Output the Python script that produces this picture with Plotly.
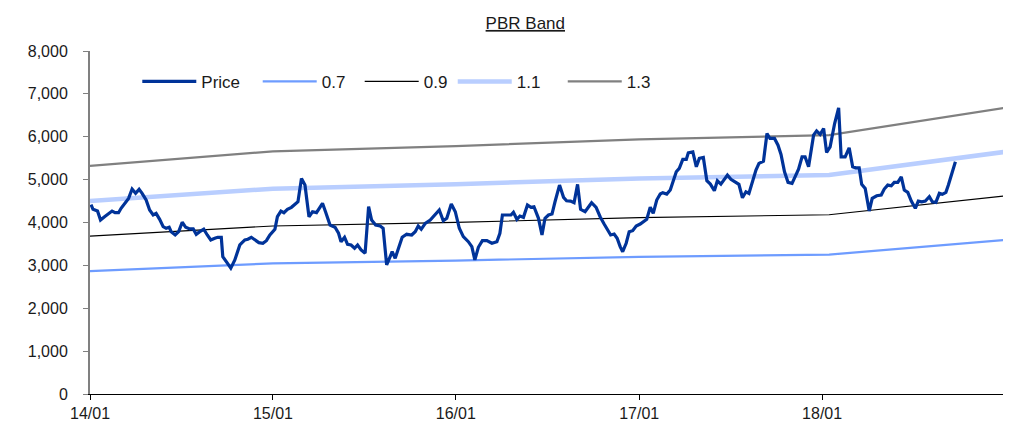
import plotly.graph_objects as go
import pandas as pd

# ---- data ----
# price observations: days since 2014-01-01 and price
day_offsets = [2, 6, 15, 21, 29, 37, 44, 50, 57, 62, 69, 77, 84, 91, 98, 104, 112, 119, 126, 132,
               139, 146, 152, 158, 162, 170, 177, 184, 191, 199, 206, 212, 219, 227, 234, 241, 249, 255, 262, 265,
               272, 281, 289, 299, 309, 315, 322, 329, 337, 345, 352, 359, 365, 369, 374, 381, 387, 394, 402, 409,
               415, 422, 429, 437, 444, 452, 464, 470, 479, 489, 496, 501, 508, 514, 521, 528, 534, 541, 549, 556,
               562, 570, 579, 585, 592, 599, 603, 609, 617, 623, 632, 642, 649, 655, 661, 669, 679, 689, 697, 705,
               712, 721, 729, 737, 745, 755, 762, 768, 775, 783, 792, 802, 812, 818, 823, 832, 840, 845, 852, 858,
               865, 873, 880, 886, 895, 902, 908, 915, 922, 928, 937, 945, 951, 959, 966, 973, 979, 988, 995, 1001,
               1010, 1018, 1026, 1033, 1039, 1046, 1052, 1058, 1063, 1070, 1076, 1083, 1090, 1098, 1104, 1111, 1118, 1124, 1131, 1138,
               1143, 1151, 1158, 1163, 1170, 1176, 1183, 1190, 1194, 1203, 1210, 1216, 1224, 1231, 1238, 1246, 1252, 1259, 1265, 1272,
               1279, 1287, 1295, 1302, 1309, 1315, 1322, 1329, 1335, 1344, 1351, 1357, 1366, 1373, 1379, 1386, 1393, 1401, 1407, 1414,
               1421, 1427, 1434, 1439, 1444, 1450, 1457, 1464, 1470, 1477, 1486, 1494, 1499, 1507, 1515, 1522, 1528, 1535, 1540, 1547,
               1555, 1561, 1570, 1579, 1585, 1592, 1599, 1605, 1612, 1619, 1625, 1632, 1639, 1647, 1653, 1660, 1667, 1675, 1681, 1688,
               1695, 1701, 1708, 1713, 1719, 1727]
price = [4420, 4307, 4267, 4058, 4135, 4198, 4267, 4229, 4229, 4331, 4447, 4563, 4780, 4680, 4773, 4680, 4524, 4291, 4175, 4214,
         4074, 3903, 3865, 3888, 3786, 3709, 3786, 4005, 3888, 3849, 3849, 3725, 3786, 3842, 3709, 3593, 3632, 3655, 3655, 3204,
         3087, 2934, 3127, 3476, 3593, 3609, 3655, 3593, 3530, 3516, 3576, 3709, 3802, 3842, 4135, 4267, 4229, 4307, 4354, 4424,
         4484, 5029, 4873, 4135, 4251, 4229, 4447, 4251, 3942, 3888, 3749, 3553, 3655, 3492, 3476, 3399, 3476, 3360, 3283, 4368,
         4058, 3942, 3919, 3865, 3011, 3204, 3320, 3166, 3476, 3655, 3725, 3709, 3786, 3919, 3842, 3981, 4058, 4198, 4291, 4042,
         4098, 4431, 4251, 3865, 3670, 3553, 3437, 3127, 3422, 3576, 3576, 3516, 3553, 3749, 4175, 4175, 4175, 4237, 4074, 4151,
         4120, 4407, 4354, 4368, 4098, 3709, 4098, 4175, 4198, 4484, 4873, 4587, 4508, 4500, 4461, 4889, 4307, 4251, 4354, 4461,
         4354, 4135, 3965, 3825, 3709, 3732, 3632, 3437, 3320, 3516, 3786, 3809, 3919, 3965, 4019, 4074, 4354, 4214, 4524, 4664,
         4695, 4664, 4757, 4950, 5183, 5262, 5472, 5472, 5625, 5649, 5299, 5495, 5518, 4973, 4896, 4741, 4973, 4896, 4989, 5106,
         5006, 4950, 4889, 4577, 4717, 4680, 4936, 5222, 5378, 5432, 6077, 5960, 5960, 5804, 5588, 5183, 4936, 4913, 5066, 5246,
         5532, 5532, 5299, 5649, 6037, 6137, 6053, 6193, 5634, 5765, 6309, 6673, 5532, 5532, 5742, 5299, 5276, 5276, 4889, 4796,
         4267, 4563, 4624, 4640, 4780, 4873, 4857, 4936, 4936, 5066, 4757, 4703, 4500, 4331, 4500, 4484, 4500, 4601, 4484, 4470,
         4680, 4657, 4703, 4873, 5100, 5416]

# book value per share anchors used for the PBR bands
bps_dates = ["2014-01-01", "2015-01-01", "2016-01-01", "2017-01-01", "2018-01-15", "2018-07-01", "2018-12-31"]
bps = [4092, 4354, 4447, 4570, 4645, 4880, 5133]
multiples = [0.7, 0.9, 1.1, 1.3]
band_names = ["0.7", "0.9", "1.1", "1.3"]

tick_dates = ["2014-01-01", "2015-01-01", "2016-01-01", "2017-01-01", "2018-01-01"]
tick_text = ["14/01", "15/01", "16/01", "17/01", "18/01"]
y_ticks = [0, 1000, 2000, 3000, 4000, 5000, 6000, 7000, 8000]

# ---- styling ----
band_styles = {
    "0.7": dict(color="#6E9CFF", width=2.2),
    "0.9": dict(color="#000000", width=1.1),
    "1.1": dict(color="#B9CEFF", width=4.5),
    "1.3": dict(color="#808080", width=2.2),
}
FONT = "Liberation Sans, Arial, sans-serif"
TXT = "#1a1a1a"
# one legend per entry so the entries sit where the reference places them
legend_x = {"Price": 0.0518, "0.7": 0.1837, "0.9": 0.2954, "1.1": 0.3973, "1.3": 0.5178}
legend_ids = {"Price": "legend", "0.7": "legend2", "0.9": "legend3", "1.1": "legend4", "1.3": "legend5"}

dates = pd.Timestamp("2014-01-01") + pd.to_timedelta(day_offsets, unit="D")

fig = go.Figure()
for name, m in zip(band_names, multiples):
    fig.add_trace(go.Scatter(
        x=bps_dates, y=[b * m for b in bps], mode="lines", name=name,
        line=band_styles[name], legend=legend_ids[name], hoverinfo="skip"))
fig.add_trace(go.Scatter(
    x=dates, y=price, mode="lines", name="Price",
    line=dict(color="#003399", width=3.2), legend="legend"))

legend_layout = {}
for name, lid in legend_ids.items():
    legend_layout[lid] = dict(orientation="h", x=legend_x[name], xanchor="left", y=0.91, yanchor="middle",
                              bgcolor="rgba(0,0,0,0)", font=dict(family=FONT, size=17, color=TXT),
                              itemwidth=54)

fig.update_layout(
    width=1026, height=434,
    margin=dict(l=90, r=23, t=51, b=40, autoexpand=False),
    paper_bgcolor="white", plot_bgcolor="white",
    font=dict(family=FONT, size=17, color=TXT),
    title=dict(text="<u>PBR Band</u>", x=0.512, xanchor="center", xref="container",
               y=0.947, yanchor="middle", font=dict(family=FONT, size=17, color=TXT)),
    showlegend=True,
    xaxis=dict(type="date", range=["2014-01-01", "2018-12-28"],
               tickvals=tick_dates, ticktext=tick_text, automargin=False,
               showgrid=False, zeroline=False, showline=True, linecolor="#000000", linewidth=1,
               ticks="outside", ticklen=5, tickcolor="#000000",
               tickfont=dict(family=FONT, size=16, color=TXT)),
    yaxis=dict(range=[0, 8000], tickvals=y_ticks, tickformat=",d", automargin=False,
               showgrid=False, zeroline=False, showline=True, linecolor="#808080", linewidth=2,
               ticks="outside", ticklen=5, tickcolor="#808080", ticklabelstandoff=12,
               tickfont=dict(family=FONT, size=16, color=TXT)),
    **legend_layout,
)

fig.write_html("out.html", config={"displayModeBar": False},
               post_script="document.body.style.margin='0';")
